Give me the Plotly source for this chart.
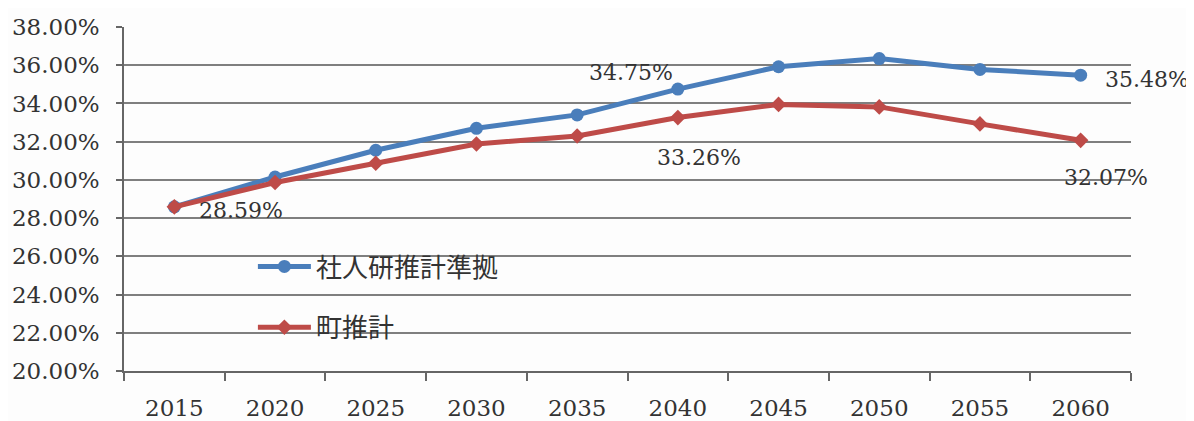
import plotly.graph_objects as go

years = [2015, 2020, 2025, 2030, 2035, 2040, 2045, 2050, 2055, 2060]
ipss_based = [28.59, 30.15, 31.55, 32.70, 33.40, 34.75, 35.92, 36.35, 35.78, 35.48]
town_est = [28.59, 29.86, 30.87, 31.88, 32.30, 33.26, 33.95, 33.82, 32.93, 32.07]
series_names = ["社人研推計準拠", "町推計"]
y_ticks = [20, 22, 24, 26, 28, 30, 32, 34, 36, 38]

# labelled points: (series, category index, xshift, yshift)
labels = [
    (ipss_based, 0, 67, -4),
    (ipss_based, 5, -47, 17),
    (town_est, 5, 21, -40),
    (ipss_based, 9, 66, -4),
    (town_est, 9, 25, -37),
]

SERIF = "DejaVu Serif"
CJK = "Noto Sans CJK JP"

half = (years[1] - years[0]) / 2
boundaries = [y - half for y in years] + [years[-1] + half]

fig = go.Figure()
fig.add_trace(go.Scatter(
    x=years, y=ipss_based, name=series_names[0], mode="lines+markers",
    line=dict(color="#4A7EBB", width=5),
    marker=dict(symbol="circle", size=13, color="#4A7EBB"),
    legendgroup="a",
))
fig.add_trace(go.Scatter(
    x=years, y=town_est, name=series_names[1], mode="lines+markers",
    line=dict(color="#BE4B48", width=5),
    marker=dict(symbol="diamond", size=12, color="#BE4B48"),
    legendgroup="b",
))

for series, idx, dx, dy in labels:
    fig.add_annotation(
        x=years[idx], y=series[idx], xref="x", yref="y",
        text=f"{series[idx]:.2f}%", showarrow=False,
        xshift=dx, yshift=dy,
        font=dict(family=SERIF, size=22, color="#333333"),
    )

fig.update_layout(
    width=1186, height=413,
    margin=dict(l=116, r=63, t=19, b=50, autoexpand=False),
    paper_bgcolor="#fdfdfd", plot_bgcolor="#fdfdfd",
    showlegend=True,
    legend=dict(
        x=0.128, y=0.372, xanchor="left", yanchor="top",
        font=dict(family=CJK, size=26, color="#333333"),
        bgcolor="rgba(0,0,0,0)", tracegroupgap=24, itemwidth=53,
    ),
    font=dict(family=SERIF, color="#333333"),
    xaxis=dict(
        range=[boundaries[0], boundaries[-1]], automargin=False,
        tickmode="array", tickvals=years, ticktext=[str(y) for y in years],
        ticks="outside", ticklen=16, tickcolor="rgba(0,0,0,0)",
        minor=dict(tickmode="array", tickvals=boundaries, ticks="outside",
                   ticklen=8, tickwidth=1.5, tickcolor="#666666", showgrid=False),
        showline=True, linecolor="#666666", linewidth=1.5,
        showgrid=False, zeroline=False,
        tickfont=dict(family=SERIF, size=23, color="#333333"),
    ),
    yaxis=dict(
        range=[20, 38], automargin=False, tickmode="array", tickvals=y_ticks,
        ticktext=[f"{v:.2f}%" for v in y_ticks],
        ticks="outside", ticklen=6, tickwidth=1.5, tickcolor="#666666",
        ticklabelstandoff=12,
        showline=True, linecolor="#666666", linewidth=1.5,
        showgrid=True, gridcolor="#7f7f7f", gridwidth=1.5,
        zeroline=False,
        tickfont=dict(family=SERIF, size=23, color="#333333"),
    ),
)

fig.write_html("out.html")
